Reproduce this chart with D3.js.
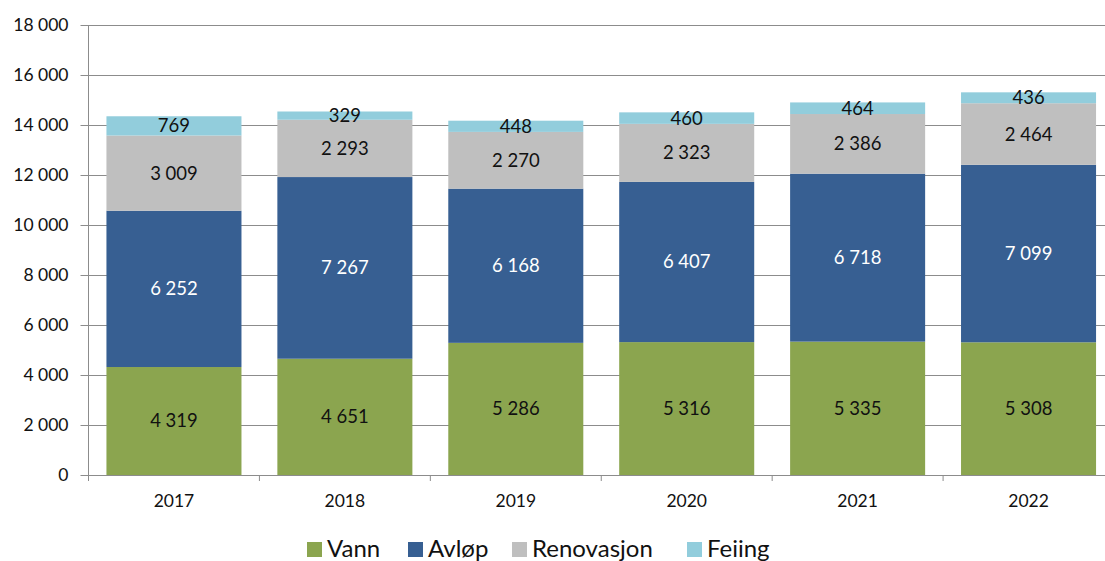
<!DOCTYPE html>
<html><head><meta charset="utf-8">
<script src="https://cdn.jsdelivr.net/npm/d3@7"></script>
<style>body{margin:0;background:#fff}svg{display:block}text{font-family:Lato,"Open Sans",sans-serif}</style>
</head><body>
<svg id="c" width="1105" height="561"></svg>
<script>
const years = ["2017","2018","2019","2020","2021","2022"];
const seriesNames = ["Vann","Avløp","Renovasjon","Feiing"];
const vann = [4319,4651,5286,5316,5335,5308];
const avlop = [6252,7267,6168,6407,6718,7099];
const renovasjon = [3009,2293,2270,2323,2386,2464];
const feiing = [769,329,448,460,464,436];
const yTicks = [0,2000,4000,6000,8000,10000,12000,14000,16000,18000];
const colors = ["#8BA54F","#375F92","#BFBFBF","#92CDDC"];
const labelColors = ["#111","#fff","#111","#111"];

const svg = d3.select("#c");
const x0 = 88.5, x1 = 1114, yTop = 25, yBot = 475;
const x = d3.scaleBand().domain(years).range([x0,x1]).paddingInner(0.21).paddingOuter(0.105);
const y = d3.scaleLinear().domain([0,18000]).range([yBot,yTop]);
const fmt = v => d3.format(",")(v).replace(/,/g," ");

// gridlines
svg.append("g").selectAll("line").data(yTicks.filter(d=>d>0)).join("line")
  .attr("x1",x0).attr("x2",1105).attr("y1",d=>y(d)+0.5).attr("y2",d=>y(d)+0.5)
  .attr("stroke","#8c8c8c").attr("stroke-width",1);

// y axis
const ya = svg.append("g").attr("transform",`translate(${x0},0)`)
  .call(d3.axisLeft(y).tickValues(yTicks).tickSize(8).tickPadding(12).tickFormat(fmt));
ya.select(".domain").attr("stroke","#8c8c8c").attr("d",`M-0,${yTop}V${yBot+5}`);
ya.selectAll(".tick line").attr("stroke","#8c8c8c");
ya.selectAll(".tick text").attr("font-size",17.5).attr("fill","#111");

// data stack
const rows = years.map((yr,i)=>({year:yr,Vann:vann[i],"Avløp":avlop[i],Renovasjon:renovasjon[i],Feiing:feiing[i]}));
const stack = d3.stack().keys(seriesNames)(rows);

svg.append("g").selectAll("g").data(stack).join("g").attr("fill",(d,i)=>colors[i])
  .selectAll("rect").data(d=>d).join("rect")
  .attr("x",d=>x(d.data.year)).attr("width",x.bandwidth())
  .attr("y",d=>y(d[1])).attr("height",d=>y(d[0])-y(d[1]));

// x axis
const xa = svg.append("g").attr("transform",`translate(0,${yBot})`);
xa.append("line").attr("x1",x0).attr("x2",1105).attr("y1",0.5).attr("y2",0.5).attr("stroke","#8c8c8c");
const bounds = years.map((d,i)=>x0 + i*x.step()).concat([x0+years.length*x.step()]);
xa.selectAll("line.t").data(bounds).join("line").attr("class","t")
  .attr("x1",d=>d).attr("x2",d=>d).attr("y1",0).attr("y2",6).attr("stroke","#8c8c8c");
xa.selectAll("text").data(years).join("text")
  .attr("x",d=>x(d)+x.bandwidth()/2).attr("y",32).attr("text-anchor","middle")
  .attr("font-size",17.5).attr("fill","#111").text(d=>d);

// value labels
svg.append("g").selectAll("g").data(stack).join("g").each(function(s,i){
  d3.select(this).selectAll("text").data(s).join("text")
    .attr("x",d=>x(d.data.year)+x.bandwidth()/2)
    .attr("y",d=>(y(d[0])+y(d[1]))/2)
    .attr("dy","0.35em").attr("text-anchor","middle")
    .attr("font-size",18.5).attr("fill",labelColors[i])
    .text(d=>fmt(d[1]-d[0]));
});

// legend
const legX = [307,408,512,687];
const lg = svg.append("g").selectAll("g").data(seriesNames).join("g")
  .attr("transform",(d,i)=>`translate(${legX[i]},540)`);
lg.append("rect").attr("width",15).attr("height",15).attr("y",2).attr("fill",(d,i)=>colors[i]);
lg.append("text").attr("x",20).attr("y",17).attr("font-size",24).attr("fill","#111").text(d=>d);
</script>
</body></html>
